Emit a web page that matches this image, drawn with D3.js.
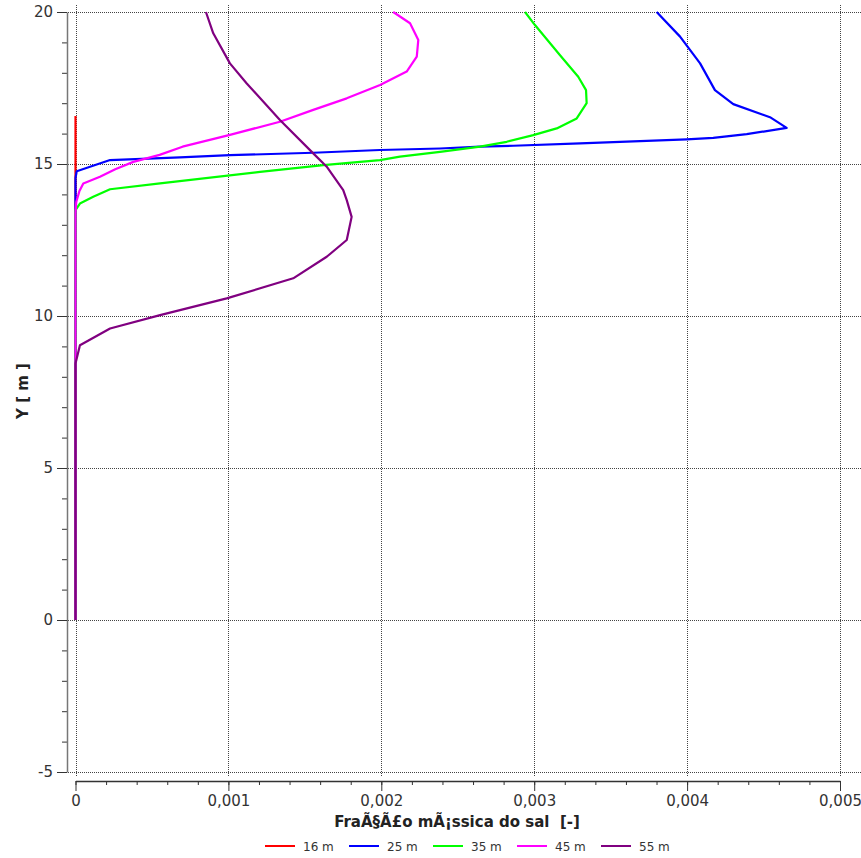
<!DOCTYPE html>
<html>
<head>
<meta charset="utf-8">
<script src="https://cdn.jsdelivr.net/npm/d3@7"></script>
<style>
  body { margin: 0; background: #fff; }
  svg { display: block; }
</style>
</head>
<body>
<div id="container"></div>
<script>
// series: salt mass fraction vs height, one profile per distance
const seriesNames = ['16 m', '25 m', '35 m', '45 m', '55 m'];
const seriesColors = ['#ff0000', '#0000ff', '#00ff00', '#ff00ff', '#800080'];

const y16 = [0, 16.58];
const x16 = [0, 0];

const y25 = [0, 14.54, 14.76, 15.13, 15.22, 15.29, 15.37, 15.46, 15.51, 15.57, 15.60, 15.68, 15.81, 15.86, 15.98, 16.19, 16.54, 16.97, 17.43, 18.31, 19.19, 20.0];
const x25 = [0, 0, 0.000008, 0.000226, 0.000683, 0.00101, 0.001555, 0.001991, 0.002384, 0.002646, 0.002863, 0.0033, 0.003997, 0.004171, 0.00439, 0.004651, 0.004542, 0.004302, 0.004182, 0.004085, 0.003954, 0.003801];

const y35 = [0, 13.48, 13.70, 13.92, 14.17, 14.36, 14.74, 14.96, 15.13, 15.24, 15.40, 15.57, 15.73, 15.95, 16.17, 16.50, 17.00, 17.43, 17.87, 18.58, 19.57, 20.0];
const x35 = [0, 0, 0.000029, 0.000116, 0.000226, 0.000553, 0.001207, 0.001621, 0.001991, 0.002122, 0.002384, 0.002646, 0.00282, 0.002994, 0.003147, 0.003278, 0.003343, 0.003339, 0.003288, 0.003169, 0.003005, 0.00294];

const y45 = [0, 13.40, 13.75, 14.10, 14.36, 14.58, 14.83, 15.07, 15.30, 15.57, 15.96, 16.39, 16.78, 17.16, 17.60, 18.04, 18.53, 19.08, 19.63, 20.0];
const x45 = [0, 0, 0.000005, 0.000025, 0.000051, 0.00016, 0.00026, 0.000378, 0.00055, 0.0007, 0.00101, 0.001337, 0.001555, 0.001774, 0.001992, 0.002166, 0.002232, 0.002242, 0.002188, 0.002078];

const y55 = [0, 8.44, 9.04, 9.59, 10.03, 10.58, 11.24, 11.95, 12.50, 13.26, 13.81, 14.14, 14.91, 15.35, 16.45, 17.65, 18.31, 19.30, 20.0];
const x55 = [0, 0, 0.000029, 0.000226, 0.000553, 0.000989, 0.001424, 0.001643, 0.001774, 0.001806, 0.001774, 0.001751, 0.001643, 0.001555, 0.001337, 0.00112, 0.00101, 0.000901, 0.000853];

// tick values
const xMajorTicks = [0, 0.001, 0.002, 0.003, 0.004, 0.005];
const xMinorTicks = d3.range(0, 26).map((i) => i * 0.0002);
const yMajorTicks = [-5, 0, 5, 10, 15, 20];
const yMinorTicks = d3.range(-5, 21);

const xTitle = 'FraÃ§Ã£o mÃ¡ssica do sal  [-]';
const yTitle = 'Y [ m ]';

const width = 861;
const height = 858;
const font = '"DejaVu Sans", Verdana, sans-serif';

const series = [
  { x: x16, y: y16 },
  { x: x25, y: y25 },
  { x: x35, y: y35 },
  { x: x45, y: y45 },
  { x: x55, y: y55 },
].map((s, i) => ({
  name: seriesNames[i],
  color: seriesColors[i],
  points: s.x.map((v, j) => ({ x: v, y: s.y[j] })),
}));

const svg = d3
  .select('#container')
  .append('svg')
  .attr('width', width)
  .attr('height', height)
  .style('font-family', font);

svg.append('rect').attr('width', width).attr('height', height).attr('fill', '#fff');

const x = d3.scaleLinear().domain([0, 0.005]).range([75.5, 840]);
const y = d3.scaleLinear().domain([-5, 20]).range([772, 12]);

// gridlines (dotted)
const grid = svg.append('g').attr('stroke', '#444').attr('stroke-dasharray', '1,1').attr('stroke-width', 1);
grid
  .selectAll('line.vx')
  .data(xMajorTicks)
  .join('line')
  .attr('class', 'vx')
  .attr('x1', (d) => Math.round(x(d)) + 0.5)
  .attr('x2', (d) => Math.round(x(d)) + 0.5)
  .attr('y1', 5)
  .attr('y2', 776);
grid
  .selectAll('line.hy')
  .data(yMajorTicks)
  .join('line')
  .attr('class', 'hy')
  .attr('x1', 68)
  .attr('x2', width)
  .attr('y1', (d) => Math.round(y(d)) + 0.5)
  .attr('y2', (d) => Math.round(y(d)) + 0.5);

// x axis
const fmtX = (d) => (d === 0 ? '0' : d3.format('.3f')(d).replace('.', ','));
const xAxisG = svg.append('g').attr('transform', 'translate(0,781)');
xAxisG
  .append('g')
  .call(d3.axisBottom(x).tickValues(xMinorTicks).tickSize(4).tickSizeOuter(0).tickFormat(''))
  .call((g) => g.select('.domain').remove());
xAxisG
  .append('g')
  .call(d3.axisBottom(x).tickValues(xMajorTicks).tickSize(10).tickSizeOuter(0).tickFormat(fmtX))
  .call((g) => g.select('.domain').attr('stroke', '#333').attr('stroke-width', 1.5))
  .call((g) =>
    g.selectAll('text').attr('y', 14).attr('font-size', '15px').attr('fill', '#333').style('font-family', font)
  );
xAxisG.selectAll('.tick line').attr('stroke', '#333');

// y axis
const yAxisG = svg.append('g').attr('transform', 'translate(67,0)');
yAxisG
  .append('g')
  .call(d3.axisLeft(y).tickValues(yMinorTicks).tickSize(5).tickSizeOuter(0).tickFormat(''))
  .call((g) => g.select('.domain').remove());
yAxisG
  .append('g')
  .call(d3.axisLeft(y).tickValues(yMajorTicks).tickSize(10).tickSizeOuter(0).tickFormat((d) => String(d)))
  .call((g) => g.select('.domain').attr('stroke', '#777').attr('stroke-width', 1.5))
  .call((g) =>
    g.selectAll('text').attr('x', -14).attr('font-size', '15px').attr('fill', '#333').style('font-family', font)
  );
yAxisG.selectAll('.tick line').attr('stroke', '#333');

// axis titles
svg
  .append('text')
  .attr('x', 457)
  .attr('y', 827)
  .attr('text-anchor', 'middle')
  .attr('font-size', '15px')
  .attr('font-weight', 'bold')
  .attr('fill', '#222')
  .style('white-space', 'pre')
  .text(xTitle);

svg
  .append('text')
  .attr('transform', 'translate(28,391) rotate(-90)')
  .attr('text-anchor', 'middle')
  .attr('font-size', '15px')
  .attr('font-weight', 'bold')
  .attr('fill', '#222')
  .style('white-space', 'pre')
  .text(yTitle);

// lines
const line = d3
  .line()
  .x((d) => x(d.x))
  .y((d) => y(d.y));

svg
  .append('g')
  .selectAll('path')
  .data(series)
  .join('path')
  .attr('fill', 'none')
  .attr('stroke', (d) => d.color)
  .attr('stroke-width', 2.2)
  .attr('stroke-linejoin', 'round')
  .attr('d', (d) => line(d.points));

// legend
const legend = svg
  .append('g')
  .selectAll('g')
  .data(series)
  .join('g')
  .attr('transform', (d, i) => `translate(${265 + i * 84},846)`);
legend
  .append('line')
  .attr('x1', 0)
  .attr('x2', 30)
  .attr('stroke', (d) => d.color)
  .attr('stroke-width', 2);
legend
  .append('text')
  .attr('x', 38)
  .attr('y', 5)
  .attr('font-size', '12px')
  .attr('fill', '#333')
  .text((d) => d.name);
</script>
</body>
</html>
